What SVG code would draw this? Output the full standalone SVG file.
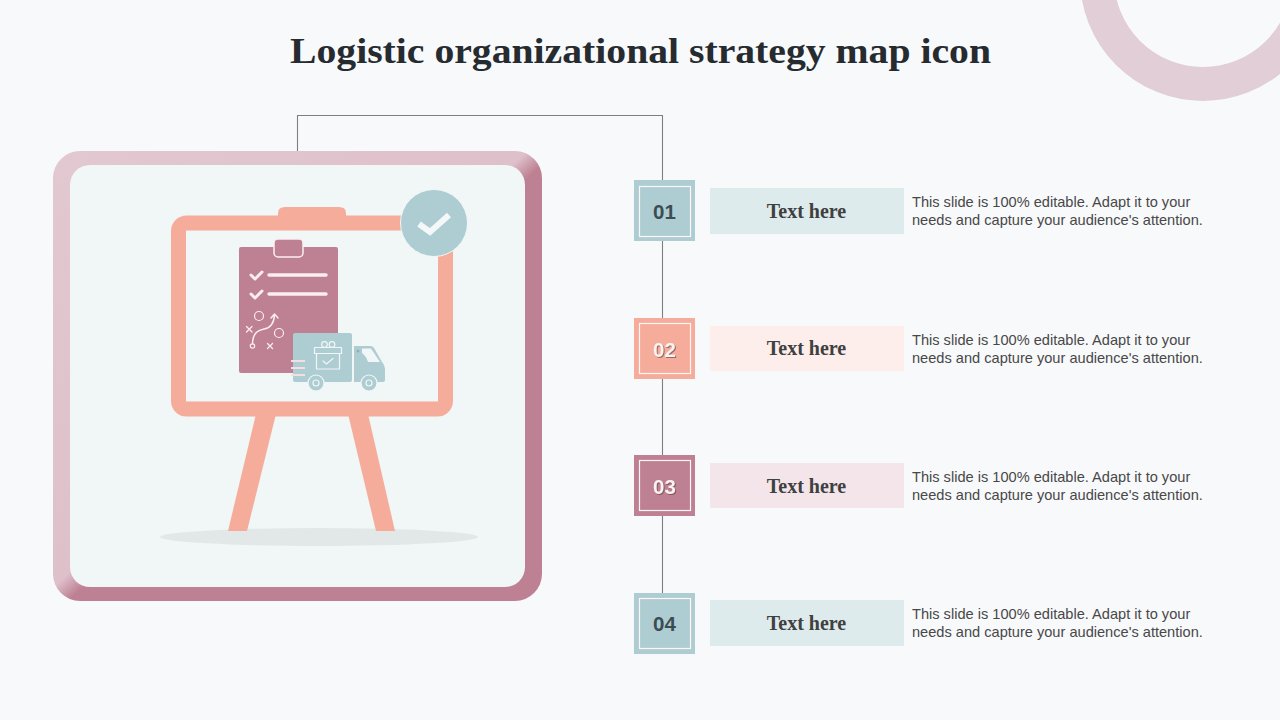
<svg xmlns="http://www.w3.org/2000/svg" width="1280" height="720" viewBox="0 0 1280 720">
<style>
.title{font:bold 36px "Liberation Serif",serif;fill:#262b30}
.num{font:bold 20.500px "Liberation Sans",Arial,sans-serif;text-anchor:middle}
.dk{fill:#3c4d52}
.lt{fill:#fbf3f1;filter:drop-shadow(1px 1px 0.6px rgba(90,60,60,.6))}
.lab{font:bold 20px "Liberation Serif",serif;fill:#404040;text-anchor:middle}
.desc{font:14.600px "Liberation Sans",Arial,sans-serif;fill:#484848}
.fr{fill:none;stroke:#fdf6f4;stroke-width:1.2}
.conn{fill:none;stroke:#7f7f7f;stroke-width:1.1}
.w{fill:none;stroke:#fbeef0;stroke-linecap:round;stroke-linejoin:round}
.t{fill:#aecdd2}
.s{fill:#f6ac9b}
.tl{fill:none;stroke:#f1f6f7;stroke-linejoin:round;stroke-linecap:round}
</style>
<defs>
<linearGradient id="edge" x1="0" y1="0" x2="1" y2="1">
<stop offset="0" stop-color="#e2c8d1"/><stop offset=".485" stop-color="#dec0ca"/><stop offset=".515" stop-color="#be8194"/><stop offset="1" stop-color="#be8194"/>
</linearGradient>
</defs>
<rect width="1280" height="720" fill="#f8f9fb"/>
<circle id="corner-ring" cx="1203" cy="-22" r="106" fill="none" stroke="#e1ced6" stroke-width="34"/>
<text class="title" x="640.500" y="63" text-anchor="middle" textLength="701" lengthAdjust="spacingAndGlyphs">Logistic organizational strategy map icon</text>

<g id="connectors">
<path class="conn" d="M297.500 151V115.500H662.500V593"/>
</g>

<g id="panel">
<rect x="53" y="151" width="489" height="450" rx="27" fill="url(#edge)"/>
<rect x="70" y="165" width="455" height="422" rx="20" fill="#f1f6f7"/>
</g>

<g id="easel">
<ellipse cx="319" cy="537" rx="159" ry="9" fill="#e2e8e8"/>
<path class="s" d="M256 414H276L247 531H228ZM348 414H368L395 531H376Z"/>
<path class="s" d="M278 217V213Q278 207 285 207H339Q346 207 346 213V217Z"/>
<rect x="178.500" y="223" width="267" height="186" rx="8" fill="none" stroke="#f6ac9b" stroke-width="15"/>
</g>

<g id="check-badge">
<circle cx="434" cy="223" r="33.500" class="t" stroke="#f1f6f7" stroke-width="1"/>
<path d="M419 224L430 232L449 215" fill="none" stroke="#f4f8f9" stroke-width="6"/>
</g>

<g id="clipboard">
<rect x="239" y="247" width="99" height="126" rx="2" fill="#be8194"/>
<rect x="274" y="239" width="29" height="18" rx="4" fill="#be8194" stroke="#fbeef0" stroke-width="1.500"/>
<path class="w" stroke-width="3" d="M251 275L255 279L262 272M251 294L255 298L262 291"/>
<path class="w" stroke-width="3.400" d="M269 275H326M269 294H326"/>
<g stroke-width="1.200">
<circle class="w" cx="259" cy="316" r="4.500"/>
<circle class="w" cx="279" cy="333" r="4.500"/>
<circle class="w" cx="252.500" cy="346" r="2.200"/>
<path class="w" d="M246.500 326.500L252 332M252 326.500L246.500 332M267.500 343.500L272.500 348.500M272.500 343.500L267.500 348.500"/>
<path class="w" stroke-width="1.500" d="M252.500 343.500C253 332 259 330 264 329C272 328 274 322 274.500 315M271 318L274.500 314L278 318"/>
</g>
</g>

<g id="truck">
<rect x="293" y="333" width="59" height="49" rx="2" class="t"/>
<path class="t" d="M354 346H370Q373 346 374 348L382 362Q385 365 385 369V380Q385 382 383 382H354Z"/>
<path fill="#f1f6f7" d="M362 348.500H371L380 362H368Q366 356 362 353Z"/>
<circle cx="358" cy="351" r="1.500" fill="#8fb2b8"/>
<path d="M291 361H305M291 368H305M291 375H305" stroke="#f3dfe0" stroke-width="1.800"/>
<g stroke="#f1f6f7" stroke-width="1.200">
<circle cx="316" cy="383" r="8" class="t"/><circle cx="369" cy="383" r="8" class="t"/>
<circle cx="316" cy="383" r="3" fill="none"/><circle cx="369" cy="383" r="3" fill="none"/>
</g>
<g class="tl" stroke-width="1.200" fill="none">
<rect x="314.500" y="347.500" width="27" height="6"/>
<rect x="316.500" y="353.500" width="23" height="15.500"/>
<circle cx="324.500" cy="344.500" r="2.800"/><circle cx="332" cy="344.500" r="2.800"/>
<path d="M323 361L326.500 364L333 358.500"/>
</g>
</g>

<g id="step-01">
<rect x="634" y="180" width="61" height="61" class="t"/>
<rect x="639.500" y="186.500" width="51" height="50" class="fr"/>
<text class="num dk" x="664.500" y="219">01</text>
<rect x="710" y="188" width="194" height="46" fill="#deebec"/>
<text class="lab" x="806.500" y="218">Text here</text>
<text class="desc" x="912" y="207">This slide is 100% editable. Adapt it to your</text>
<text class="desc" x="912" y="225">needs and capture your audience's attention.</text>
</g>
<g id="step-02">
<rect x="634" y="318" width="61" height="61" class="s"/>
<rect x="639.500" y="323.500" width="51" height="50" class="fr"/>
<text class="num lt" x="664.500" y="357">02</text>
<rect x="710" y="326" width="194" height="45" fill="#fdeeeb"/>
<text class="lab" x="806.500" y="355">Text here</text>
<text class="desc" x="912" y="345">This slide is 100% editable. Adapt it to your</text>
<text class="desc" x="912" y="363">needs and capture your audience's attention.</text>
</g>
<g id="step-03">
<rect x="634" y="455" width="61" height="61" fill="#be8194"/>
<rect x="639.500" y="460.500" width="51" height="50" class="fr"/>
<text class="num lt" x="664.500" y="494">03</text>
<rect x="710" y="463" width="194" height="45" fill="#f3e5ea"/>
<text class="lab" x="806.500" y="493">Text here</text>
<text class="desc" x="912" y="482">This slide is 100% editable. Adapt it to your</text>
<text class="desc" x="912" y="500">needs and capture your audience's attention.</text>
</g>
<g id="step-04">
<rect x="634" y="593" width="61" height="61" class="t"/>
<rect x="639.500" y="598.500" width="51" height="50" class="fr"/>
<text class="num dk" x="664.500" y="631">04</text>
<rect x="710" y="600" width="194" height="46" fill="#deebec"/>
<text class="lab" x="806.500" y="630">Text here</text>
<text class="desc" x="912" y="619">This slide is 100% editable. Adapt it to your</text>
<text class="desc" x="912" y="637">needs and capture your audience's attention.</text>
</g>
</svg>
